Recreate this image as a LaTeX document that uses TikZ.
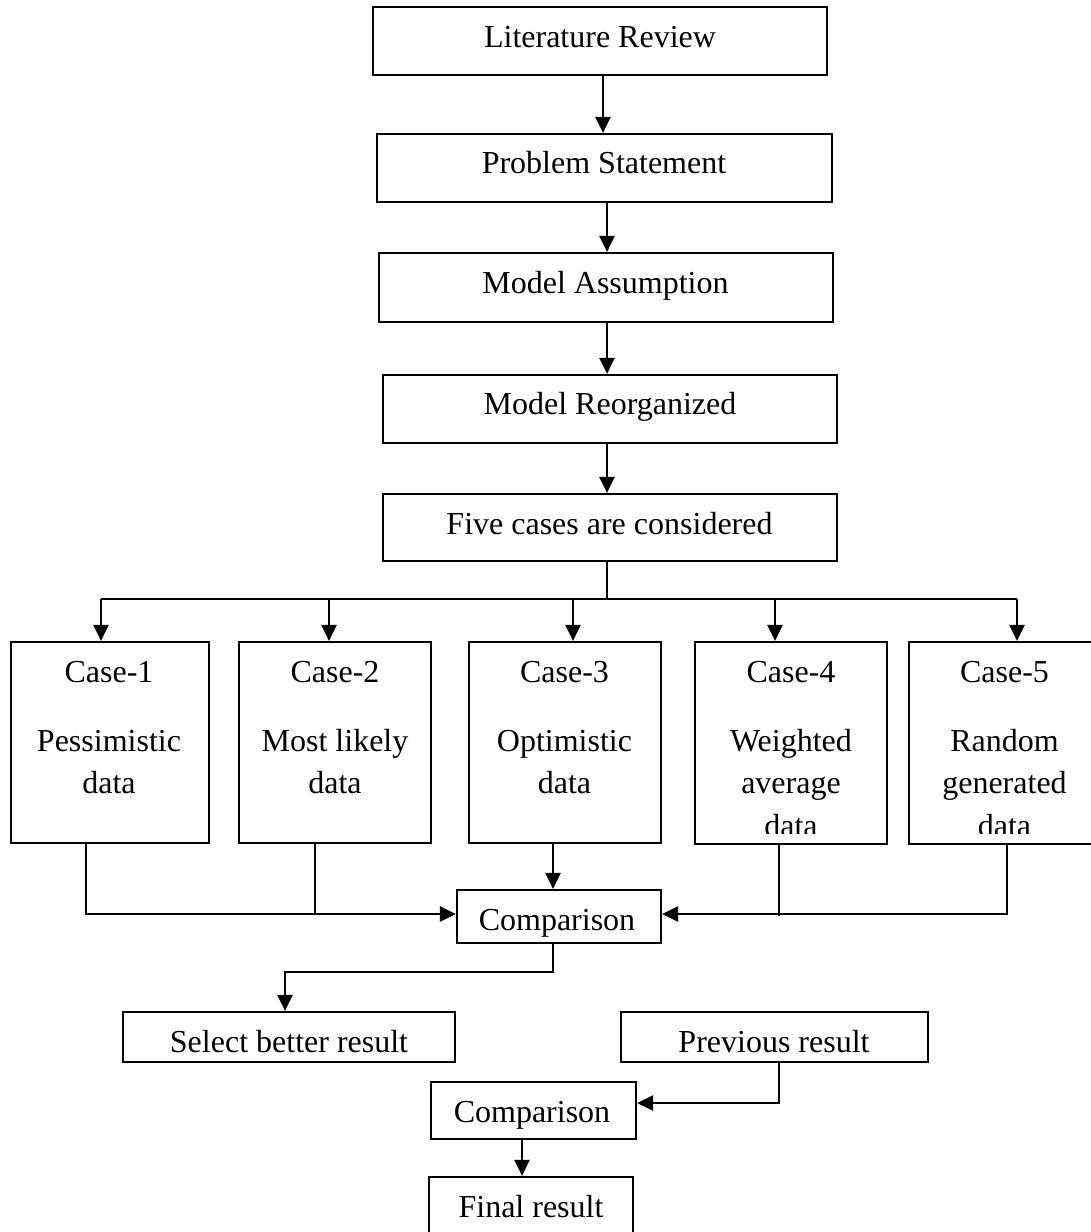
\documentclass[tikz,border=0pt]{standalone}
\usepackage{fontspec}
\setmainfont{Liberation Serif}
\usetikzlibrary{arrows.meta,calc}
\begin{document}
\begin{tikzpicture}[x=1pt,y=-1pt,
  box/.style={draw,line width=2.2pt,inner sep=0pt},
  txt/.style={anchor=base,inner sep=0pt,font=\fontsize{32}{38}\selectfont},
  arr/.style={-{Triangle[length=16pt,width=15pt]},line width=2.6pt,line join=miter},
  thinline/.style={line width=2pt,line join=miter}]
\useasboundingbox (0,0) rectangle (1091,1232);
\clip (0,0) rectangle (1091,1232);
% top chain
\node[box,minimum width=454pt,minimum height=68pt] (lr) at (600,41) {};
\node[txt] (lrT) at (600,47) {Literature Review};
\node[box,minimum width=455pt,minimum height=68pt] (ps) at (604.5,168) {};
\node[txt] (psT) at (604,173) {Problem Statement};
\node[box,minimum width=454pt,minimum height=69pt] (ma) at (606,287.5) {};
\node[txt] (maT) at (605.5,293) {Model Assumption};
\node[box,minimum width=454pt,minimum height=68pt] (mr) at (610,409) {};
\node[txt] (mrT) at (610,414) {Model Reorganized};
\node[box,minimum width=454pt,minimum height=67pt] (fc) at (610,527.5) {};
\node[txt] (fcT) at (609.5,534) {Five cases are considered};
\draw[arr] ([xshift=3pt]lr.south) -- ([xshift=-1.5pt]ps.north);
\draw[arr] ([xshift=2.5pt]ps.south) -- ([xshift=1pt]ma.north);
\draw[arr] ([xshift=1pt]ma.south) -- ([xshift=-3pt]mr.north);
\draw[arr] ([xshift=-3pt]mr.south) -- ([xshift=-3pt]fc.north);
% case boxes
\node[box,minimum width=198pt,minimum height=201pt] (c1) at (110,742.5) {};
\node[box,minimum width=192pt,minimum height=201pt] (c2) at (335,742.5) {};
\node[box,minimum width=192pt,minimum height=201pt] (c3) at (565,742.5) {};
\node[box,minimum width=192pt,minimum height=202pt] (c4) at (791,743) {};
\node[box,minimum width=191pt,minimum height=202pt] (c5) at (1004.5,743) {};
\node[txt] (c1a) at (109,682) {Case-1};
\node[txt] (c1b) at (109,751) {Pessimistic};
\node[txt] (c1c) at (109,793) {data};
\node[txt] (c2a) at (335,682) {Case-2};
\node[txt] (c2b) at (335,751) {Most likely};
\node[txt] (c2c) at (335,793) {data};
\node[txt] (c3a) at (564.5,682) {Case-3};
\node[txt] (c3b) at (564.5,751) {Optimistic};
\node[txt] (c3c) at (564.5,793) {data};
\node[txt] (c4a) at (791,682) {Case-4};
\node[txt] (c4b) at (791,751) {Weighted};
\node[txt] (c4c) at (791,793) {average};
\node[txt] (c5a) at (1004.5,682) {Case-5};
\node[txt] (c5b) at (1004.5,751) {Random};
\node[txt] (c5c) at (1004.5,793) {generated};
\begin{scope}
\clip (690,800) rectangle (1091,833);
\node[txt] (c4d) at (791,836) {data};
\node[txt] (c5d) at (1004.5,836) {data};
\end{scope}
% distribution bus
\coordinate (busM) at (607,599);
\coordinate (b1) at (101,599);
\coordinate (b2) at (329,599);
\coordinate (b3) at (573,599);
\coordinate (b4) at (775,599);
\coordinate (b5) at (1017,599);
\draw[thinline] ([xshift=-3pt]fc.south) -- (busM);
\draw[thinline] (b1) -- (b5);
\draw[arr] (b1) -- ([xshift=-9pt]c1.north);
\draw[arr] (b2) -- ([xshift=-6pt]c2.north);
\draw[arr] (b3) -- ([xshift=8pt]c3.north);
\draw[arr] (b4) -- ([xshift=-16pt]c4.north);
\draw[arr] (b5) -- ([xshift=12.5pt]c5.north);
% comparison 1
\node[box,minimum width=204pt,minimum height=53pt] (cmp1) at (559,916.5) {};
\node[txt] (cmp1T) at (557,930) {Comparison};
\draw[arr] ([xshift=-24pt]c1.south) |- ([yshift=2.5pt]cmp1.west);
\draw[thinline] ([xshift=-20pt]c2.south) -- ++(0,71);
\draw[arr] ([xshift=-12pt]c3.south) -- ([xshift=-6pt]cmp1.north);
\draw[arr] ([xshift=2.5pt]c5.south) |- ([yshift=2.5pt]cmp1.east);
\draw[thinline] ([xshift=-12pt]c4.south) -- ++(0,70.5);
% lower part
\node[box,minimum width=332pt,minimum height=50pt] (sel) at (289,1037) {};
\node[txt] (selT) at (289,1052) {Select better result};
\node[box,minimum width=307pt,minimum height=50pt] (prev) at (774.5,1037) {};
\node[txt] (prevT) at (774,1052) {Previous result};
\node[box,minimum width=205pt,minimum height=57pt] (cmp2) at (533.5,1110.5) {};
\node[txt] (cmp2T) at (532,1122) {Comparison};
\node[box,minimum width=204pt,minimum height=70pt] (fin) at (531,1212) {};
\node[txt] (finT) at (531,1217) {Final result};
\draw[arr] ([xshift=-6pt]cmp1.south) -- ++(0,28) -| ([xshift=-4pt]sel.north);
\draw[arr] ([xshift=4.5pt]prev.south) |- ([yshift=7.5pt]cmp2.east);
\draw[arr] ([xshift=-11.5pt]cmp2.south) -- ([xshift=-9pt]fin.north);
\end{tikzpicture}
\end{document}
